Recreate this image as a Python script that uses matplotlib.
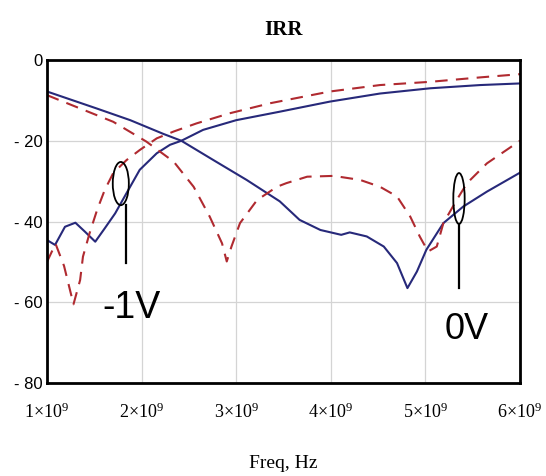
import numpy as np
import matplotlib.pyplot as plt
from matplotlib.patches import Ellipse, Rectangle

plt.rcParams['mathtext.fontset'] = 'custom'
plt.rcParams['mathtext.rm'] = 'Liberation Serif'
plt.rcParams['mathtext.it'] = 'Liberation Serif'

# frequency in units of 1e9 Hz, values in dB
f_blue_0v = [1.0, 1.525, 1.88, 2.23, 2.42, 2.76, 3.11, 3.46, 3.67, 3.89, 4.11, 4.20,
             4.38, 4.56, 4.70, 4.81, 4.91, 5.01, 5.19, 5.40, 5.65, 6.0]
irr_blue_0v = [-7.8, -12.0, -14.9, -18.3, -20.0, -24.8, -29.7, -35.0, -39.6, -42.1, -43.3, -42.7,
               -43.7, -46.2, -50.3, -56.5, -52.4, -47.0, -40.4, -36.3, -32.6, -27.9]

f_blue_m1v = [1.0, 1.085, 1.19, 1.30, 1.40, 1.51, 1.61, 1.72, 1.84, 1.98, 2.16, 2.30,
              2.42, 2.65, 3.0, 3.46, 3.99, 4.52, 5.05, 5.58, 6.0]
irr_blue_m1v = [-44.6, -45.8, -41.3, -40.3, -42.5, -45.0, -41.7, -38.0, -33.0, -27.2, -23.1, -21.0,
                -20.0, -17.3, -14.9, -12.8, -10.3, -8.3, -7.0, -6.2, -5.8]

f_red_0v = [1.0, 1.35, 1.70, 2.05, 2.34, 2.55, 2.72, 2.85, 2.90, 2.95, 3.04, 3.22, 3.43,
            3.53, 3.75, 4.03, 4.31, 4.52, 4.70, 4.84, 4.94, 4.98, 5.03, 5.12, 5.19, 5.33,
            5.44, 5.65, 6.0]
irr_red_0v = [-8.7, -12.0, -15.3, -20.2, -25.2, -31.4, -38.8, -45.4, -49.9, -46.2, -40.4, -34.7, -31.4,
              -30.5, -28.9, -28.7, -29.7, -31.4, -33.8, -38.8, -43.7, -45.4, -47.4, -46.2, -40.4, -34.7,
              -30.5, -25.6, -20.0]

f_red_m1v = [1.0, 1.09, 1.18, 1.28, 1.35, 1.38, 1.45, 1.53, 1.61, 1.70, 1.84, 1.98, 2.16,
             2.34, 2.58, 2.93, 3.36, 3.99, 4.52, 5.05, 5.58, 6.0]
irr_red_m1v = [-50.0, -45.5, -51.0, -60.5, -54.5, -48.7, -42.9, -37.1, -32.2, -28.0, -24.8, -22.3, -19.4,
               -17.7, -15.7, -13.2, -10.7, -7.8, -6.2, -5.4, -4.3, -3.5]

x_ticks = [1, 2, 3, 4, 5, 6]
x_tick_labels = [r'$1{\times}10^{9}$', r'$2{\times}10^{9}$', r'$3{\times}10^{9}$',
                 r'$4{\times}10^{9}$', r'$5{\times}10^{9}$', r'$6{\times}10^{9}$']
y_ticks = [0, -20, -40, -60, -80]
y_tick_labels = ['0', '- 20', '- 40', '- 60', '- 80']

blue = '#27297a'
red = '#b02a30'

fig = plt.figure(figsize=(5.46, 4.76), dpi=100)
ax = fig.add_axes([0.0861, 0.1954, 0.8663, 0.6785])

ax.plot(f_blue_0v, irr_blue_0v, color=blue, lw=1.5, zorder=3)
ax.plot(f_blue_m1v, irr_blue_m1v, color=blue, lw=1.5, zorder=3)
ax.plot(f_red_0v, irr_red_0v, color=red, lw=1.5, dashes=(6.0, 4.0), zorder=3)
ax.plot(f_red_m1v, irr_red_m1v, color=red, lw=1.5, dashes=(6.0, 4.0), zorder=3)

ax.set_xlim(1, 6)
ax.set_ylim(-80, 0)
ax.set_xticks(x_ticks)
ax.set_xticklabels(x_tick_labels, fontsize=13)
ax.set_yticks(y_ticks)
ax.set_yticklabels(y_tick_labels, fontsize=12, family='Liberation Sans')
ax.tick_params(axis='x', length=0, pad=14)
ax.tick_params(axis='y', length=0, pad=3)
ax.grid(True, color='#d4d4d4', lw=0.9, zorder=0)
for s in ax.spines.values():
    s.set_linewidth(2)
    s.set_zorder(5)

# white text boxes covering the grid
ax.add_patch(Rectangle((1.38, -69.8), 2.1, 18.3, facecolor='white', edgecolor='none', zorder=1))
ax.add_patch(Rectangle((5.02, -70.5), 0.9, 12.3, facecolor='white', edgecolor='none', zorder=1))

# markers for -1V and 0V
ax.add_patch(Ellipse((1.78, -30.6), 0.17, 10.7, fill=False, edgecolor='black', lw=1.3, zorder=4))
ax.plot([1.835, 1.835], [-36, -50.2], color='black', lw=1.6, zorder=4)
ax.add_patch(Ellipse((5.355, -34.3), 0.12, 12.6, fill=False, edgecolor='black', lw=1.3, zorder=4))
ax.plot([5.355, 5.355], [-40.6, -56.4], color='black', lw=1.6, zorder=4)
ax.text(1.58, -61.5, '-1V', fontsize=27, family='Liberation Sans', va='center', ha='left', zorder=4)
ax.text(5.2, -66.8, '0V', fontsize=26, family='Liberation Sans', va='center', ha='left', zorder=4)

ax.set_title('IRR', fontsize=15, family='Liberation Serif', fontweight='bold', pad=18)
ax.set_xlabel('Freq, Hz', fontsize=14, family='Liberation Serif', labelpad=24)

fig.savefig('out.png', dpi=100)
